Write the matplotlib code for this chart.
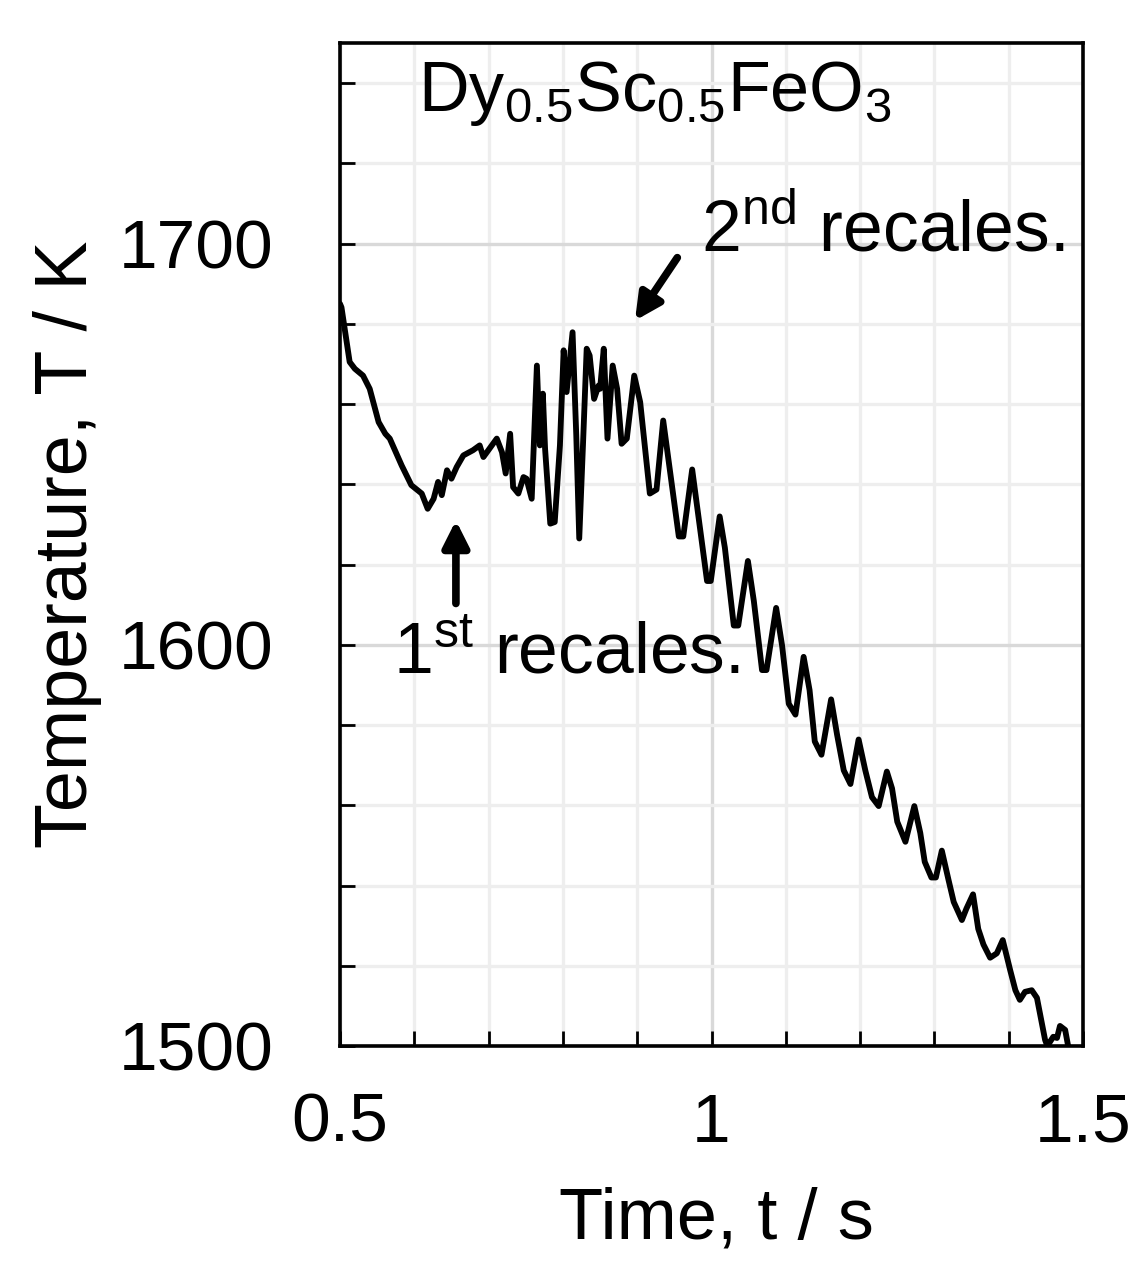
import matplotlib
matplotlib.use("Agg")
import matplotlib.pyplot as plt
from matplotlib.ticker import MultipleLocator

plt.rcParams['font.family'] = ['Liberation Sans', 'DejaVu Sans']
plt.rcParams['mathtext.fontset'] = 'custom'
plt.rcParams['mathtext.rm'] = 'Liberation Sans'
plt.rcParams['mathtext.it'] = 'Liberation Sans:italic'

# time / s
time_s = [
    0.500, 0.502, 0.513, 0.520, 0.531, 0.540, 0.552, 0.561, 0.567, 0.583,
    0.596, 0.610, 0.618, 0.626, 0.632, 0.637, 0.644, 0.650, 0.657, 0.666,
    0.679, 0.688, 0.693, 0.711, 0.718, 0.723, 0.729, 0.733, 0.740, 0.747,
    0.751, 0.758, 0.765, 0.769, 0.773, 0.776, 0.783, 0.789, 0.796, 0.801,
    0.805, 0.813, 0.818, 0.822, 0.827, 0.832, 0.836, 0.842, 0.848, 0.850,
    0.855, 0.860, 0.867, 0.873, 0.879, 0.886, 0.896, 0.904, 0.917, 0.926,
    0.935, 0.956, 0.962, 0.974, 0.994, 0.999, 1.011, 1.018, 1.030, 1.036,
    1.049, 1.057, 1.068, 1.074, 1.087, 1.095, 1.104, 1.113, 1.124, 1.132,
    1.139, 1.148, 1.161, 1.169, 1.178, 1.187, 1.198, 1.207, 1.216, 1.225,
    1.236, 1.243, 1.250, 1.261, 1.273, 1.281, 1.287, 1.296, 1.302, 1.310,
    1.319, 1.326, 1.337, 1.343, 1.352, 1.359, 1.366, 1.375, 1.384, 1.392,
    1.402, 1.409, 1.415, 1.422, 1.431, 1.438, 1.449, 1.452, 1.460, 1.465,
    1.469, 1.476, 1.480, 1.482,
]
# temperature / K
temp_k = [
    1685.0, 1684.1, 1670.5, 1668.8, 1667.1, 1663.8, 1655.5, 1652.6, 1651.4, 1644.7,
    1639.8, 1637.7, 1633.9, 1636.4, 1640.6, 1637.3, 1643.5, 1641.4, 1644.3, 1647.2,
    1648.5, 1649.7, 1646.8, 1651.4, 1648.0, 1642.7, 1652.6, 1639.3, 1637.7, 1641.8,
    1641.4, 1636.4, 1669.6, 1649.7, 1662.6, 1648.9, 1630.2, 1630.6, 1649.7, 1673.4,
    1663.0, 1677.9, 1652.2, 1626.5, 1649.7, 1673.8, 1672.1, 1661.3, 1664.6, 1663.8,
    1673.8, 1651.4, 1669.6, 1663.8, 1650.1, 1651.4, 1667.1, 1660.5, 1637.7, 1638.7,
    1655.9, 1627.0, 1627.0, 1643.7, 1615.9, 1615.9, 1632.0, 1624.2, 1604.8, 1604.8,
    1620.9, 1610.9, 1593.7, 1593.7, 1609.2, 1599.8, 1585.3, 1582.6, 1597.0, 1588.7,
    1575.9, 1572.6, 1586.4, 1577.6, 1568.7, 1565.3, 1576.4, 1568.7, 1562.0, 1559.8,
    1568.4, 1564.2, 1555.9, 1550.9, 1559.8, 1553.1, 1545.9, 1542.0, 1542.0, 1548.7,
    1541.4, 1535.9, 1531.4, 1534.2, 1537.8, 1529.2, 1525.3, 1522.0, 1523.1, 1526.4,
    1518.9, 1513.9, 1511.5, 1513.5, 1513.9, 1512.0, 1501.5, 1500.0, 1502.3, 1502.0,
    1505.0, 1504.0, 1500.0, 1497.0,
]

x_ticks = [0.5, 1.0, 1.5]
x_tick_labels = ['0.5', '1', '1.5']
y_ticks = [1500, 1600, 1700]
y_tick_labels = ['1500', '1600', '1700']

fig = plt.figure(figsize=(11.4, 12.61), dpi=100)
ax = fig.add_axes([340 / 1140, 1 - 1046 / 1261, (1083 - 340) / 1140, (1046 - 43) / 1261])

ax.plot(time_s, temp_k, color='black', lw=4.2, solid_joinstyle='round',
        solid_capstyle='round', zorder=3)

ax.set_xlim(0.5, 1.5)
ax.set_ylim(1500, 1750)
ax.set_xticks(x_ticks)
ax.set_xticklabels(x_tick_labels)
ax.set_yticks(y_ticks)
ax.set_yticklabels(y_tick_labels)
ax.xaxis.set_minor_locator(MultipleLocator(0.1))
ax.yaxis.set_minor_locator(MultipleLocator(20))

# grid: light minor lines, slightly darker major ones
ax.grid(which='minor', color='#eeeeee', lw=2.4, zorder=0)
ax.grid(which='major', color='#d9d9d9', lw=2.4, zorder=0)
ax.set_axisbelow(True)

ax.tick_params(which='both', direction='in', length=11, width=2.0,
               top=False, right=False, colors='black')
ax.tick_params(axis='x', which='major', labelsize=50, pad=33)
ax.tick_params(axis='y', which='major', labelsize=50, pad=48)
for s in ax.spines.values():
    s.set_linewidth(2.6)
    s.set_color('black')

ax.set_xlabel('Time, t / s', fontsize=52)
ax.set_ylabel('Temperature, T / K', fontsize=53)
ax.xaxis.set_label_coords(0.507, -0.14)
ax.yaxis.set_label_coords(-0.32, 0.5)

ax.text(0.605, 1733.1, r'Dy$_{0.5}$Sc$_{0.5}$FeO$_3$', fontsize=50.5,
        ha='left', va='baseline')
ax.text(0.986, 1698.3, r'2$^{\mathrm{nd}}$ recales.', fontsize=51.5,
        ha='left', va='baseline')
ax.text(0.571, 1592.9, r'1$^{\mathrm{st}}$ recales.', fontsize=51.5,
        ha='left', va='baseline')

arrow_style = dict(arrowstyle='-|>,head_length=1.55,head_width=0.78',
                   color='black', lw=5.5, shrinkA=0, shrinkB=0)
ax.annotate('', xy=(0.897, 1680.8), xytext=(0.954, 1696.5), arrowprops=arrow_style)
ax.annotate('', xy=(0.656, 1631.0), xytext=(0.656, 1610.3), arrowprops=arrow_style)

fig.savefig('out.png', dpi=100)
